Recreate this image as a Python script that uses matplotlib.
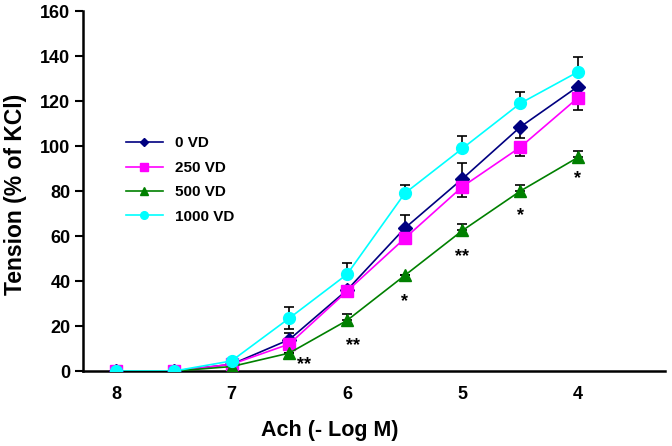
import numpy as np
import matplotlib.pyplot as plt

plt.rcParams['font.family'] = ['Liberation Sans', 'DejaVu Sans']
plt.rcParams['font.weight'] = 'bold'

# Ach concentration (-log M)
conc = [8, 7.5, 7, 6.5, 6, 5.5, 5, 4.5, 4]

# tension (% of KCl) for each group
vd0 = [0, 0, 3, 14, 36, 63.5, 85.5, 108.5, 126.5]
vd250 = [0, 0, 3, 12, 35.5, 59, 82, 99.5, 121.5]
vd500 = [0, 0, 2, 8, 22.5, 42.5, 62.5, 80, 95]
vd1000 = [0, 0, 4.5, 23.5, 43, 79, 99, 119, 133]

# SEM (lower, upper) as drawn
vd0_err = [[0, 0, 0, 0, 0, 0, 0, 5, 0], [0, 0, 0, 3, 0, 6, 7, 0, 0]]
vd250_err = [[0, 0, 0, 0, 0, 0, 4.5, 4, 5.5], [0, 0, 0, 0, 0, 0, 0, 0, 0]]
vd500_err = [[0, 0, 0, 0, 0, 0, 0, 0, 0], [0, 0, 0, 0, 3, 0, 3, 2.5, 3]]
vd1000_err = [[0, 0, 0, 5, 0, 0, 0, 0, 0], [0, 0, 0, 5, 5, 3.5, 5.5, 5, 6.5]]

# significance marks
star_x = [6.37, 5.95, 5.5, 5.0, 4.5, 4.0]
star_y = [3, 11.4, 31, 51, 69, 85.4]
star_txt = ['**', '**', '*', '**', '*', '*']

fig = plt.figure(figsize=(6.72, 4.46), dpi=100)
ax = fig.add_axes([0.1235, 0.168, 0.866, 0.807])

series = [
    (vd0, vd0_err, '#000080', 'D', 7, '0 VD'),
    (vd250, vd250_err, '#FF00FF', 's', 8, '250 VD'),
    (vd500, vd500_err, '#008000', '^', 8.5, '500 VD'),
    (vd1000, vd1000_err, '#00FFFF', 'o', 8.5, '1000 VD'),
]
for vals, err, col, mk, ms, lab in series:
    ax.errorbar(conc, vals, yerr=err, fmt='none', ecolor='black', elinewidth=1.2,
                capsize=3.3, capthick=1.2, zorder=2)
for vals, err, col, mk, ms, lab in series:
    ax.plot(conc, vals, color=col, marker=mk, markersize=ms, lw=1.2,
            label=lab, zorder=3)

for x, y, t in zip(star_x, star_y, star_txt):
    ax.text(x, y, t, ha='center', va='center', fontsize=13, color='black')

ax.set_xlim(8.286, 3.247)
ax.set_ylim(0, 160)
ax.set_xticks([8, 7, 6, 5, 4])
ax.set_yticks(np.arange(0, 161, 20))
ax.tick_params(axis='x', length=0, labelsize=13, pad=11)
ax.tick_params(axis='y', length=6, width=1.5, direction='out', labelsize=13, pad=3)
for lbl in ax.get_xticklabels() + ax.get_yticklabels():
    lbl.set_fontweight('bold')
for s in ['top', 'right']:
    ax.spines[s].set_visible(False)
for s in ['left', 'bottom']:
    ax.spines[s].set_linewidth(1.8)

ax.set_xlabel('Ach (- Log M)', fontsize=15.5, fontweight='bold')
ax.set_ylabel('Tension (% of KCl)', fontsize=16.5, fontweight='bold')
ax.xaxis.set_label_coords(0.424, -0.135)
ax.yaxis.set_label_coords(-0.097, 0.49)

ax.legend(loc='upper left', bbox_to_anchor=(0.05, 0.69), frameon=False,
          handlelength=2.4, markerscale=0.65, labelspacing=0.68,
          prop={'weight': 'bold', 'size': 11})

plt.savefig('out.png', dpi=100)
